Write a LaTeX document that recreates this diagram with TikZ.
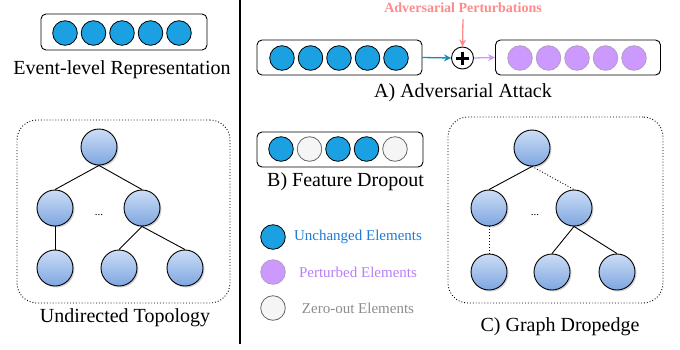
\documentclass[tikz,border=0pt]{standalone}
\usepackage{fontspec}
\setmainfont{Liberation Serif}
\usetikzlibrary{shadows,arrows.meta}
\definecolor{cblue}{HTML}{1BA1E2}
\definecolor{cpurp}{HTML}{CC99FF}
\definecolor{cpurpd}{HTML}{9673A6}
\definecolor{cgray}{HTML}{F5F5F5}
\definecolor{cgrayd}{HTML}{666666}
\definecolor{csalmon}{HTML}{FF8A8A}
\definecolor{cblueTxt}{HTML}{1F7BD1}
\definecolor{cpurpTxt}{HTML}{B77EF8}
\definecolor{cgrayTxt}{HTML}{8C8C8C}
\definecolor{carrowb}{HTML}{1C6EA4}
\definecolor{carrowp}{HTML}{C89BFA}
\definecolor{ntop}{HTML}{CCDDF6}
\definecolor{nbot}{HTML}{7EA6E0}
\tikzset{
  elb/.style={circle,draw=black,fill=cblue,minimum size=24.6pt,inner sep=0pt,line width=0.8pt},
  elp/.style={circle,draw=cpurpd!70,fill=cpurp,minimum size=24.6pt,inner sep=0pt,line width=0.8pt},
  elg/.style={circle,draw=cgrayd,fill=cgray,minimum size=24.6pt,inner sep=0pt,line width=0.8pt},
  vecbox/.style={draw=black,rounded corners=5pt,line width=0.9pt},
  tnode/.style={circle,draw=black,line width=0.9pt,minimum size=36pt,inner sep=0pt,
    top color=ntop,bottom color=nbot,
    drop shadow={shadow xshift=1.5pt,shadow yshift=-1.5pt,fill=black!35}},
  lbl/.style={font=\fontsize{20}{24}\selectfont,inner sep=0pt},
  leg/.style={font=\fontsize{15}{18}\selectfont,inner sep=0pt},
  dotbox/.style={draw=black,dotted,line width=0.9pt,rounded corners=20pt},
  edge/.style={line width=0.9pt},
  dedge/.style={line width=0.9pt,dotted}
}
\begin{document}
\begin{tikzpicture}[x=1pt,y=-1pt]
\useasboundingbox (0,0) rectangle (680,349);
% separator
\coordinate (s1) at (240,0);
\coordinate (s2) at (240,344);
\draw[line width=2pt] (s1) -- (s2);

% Event-level representation
\node[vecbox,minimum width=166pt,minimum height=36pt] (ebox) at (124,32) {};
\foreach \i/\x in {1/65,2/93.5,3/122,4/150.5,5/179}{\node[elb] (e\i) at (\x,33) {};}
\node[lbl] (etxt) at (122,70) {Event-level Representation};

% Undirected topology
\node[dotbox,minimum width=213pt,minimum height=183pt] (ubox) at (123.5,211.5) {};
\node[tnode] (u0) at (99,147) {};
\node[tnode] (u1) at (55,208) {};
\node[tnode] (u2) at (142,208) {};
\node[tnode] (u3) at (55,268) {};
\node[tnode] (u4) at (119,268) {};
\node[tnode] (u5) at (185,268) {};
\node[font=\fontsize{11}{12}\selectfont] (udots) at (99,215) {...};
\draw[edge] (u0.south) -- (u1.north);
\draw[edge] (u0.south) -- (u2.north);
\draw[edge] (u1.south) -- (u3.north);
\draw[edge] (u2.south) -- (u4.north);
\draw[edge] (u2.south) -- (u5.north);
\node[lbl] (utxt) at (125,318) {Undirected Topology};

% A) Adversarial attack
\node[font=\bfseries\fontsize{14}{16}\selectfont,text=csalmon,inner sep=0pt] (advtxt) at (463,8) {Adversarial Perturbations};
\node[vecbox,minimum width=165pt,minimum height=35pt] (abox) at (339.5,57.5) {};
\foreach \i/\x in {1/282,2/310.5,3/339,4/367.5,5/396}{\node[elb] (a\i) at (\x,58) {};}
\node[circle,draw=black,fill=white,line width=0.9pt,minimum size=22pt,inner sep=0pt] (plus) at (462.5,58) {};
\draw[line width=3pt] ([xshift=-6.5pt]plus.center) -- ([xshift=6.5pt]plus.center);
\draw[line width=3pt] ([yshift=-6.5pt]plus.center) -- ([yshift=6.5pt]plus.center);
\node[vecbox,minimum width=165pt,minimum height=35pt] (pbox) at (578,57.5) {};
\foreach \i/\x in {1/520,2/548.5,3/577,4/605.5,5/634}{\node[elp] (p\i) at (\x,58) {};}
\draw[line width=1.3pt,color=carrowb!80!cyan,-{Stealth[length=7pt,width=7pt]}] (abox.east) -- (plus.west);
\draw[line width=1.3pt,color=carrowp,-{Stealth[length=7pt,width=7pt]}] (plus.east) -- (pbox.west);
\draw[line width=1.3pt,color=csalmon,-{Stealth[length=7pt,width=7pt]}] ([yshift=-6pt]advtxt.south) -- (plus.north);
\node[lbl] (atxt) at (463,93) {A) Adversarial Attack};

% B) Feature dropout
\node[vecbox,minimum width=166pt,minimum height=35pt] (bbox) at (340,149.5) {};
\node[elb] (b1) at (281,149) {};
\node[elg] (b2) at (309.5,149) {};
\node[elb] (b3) at (338,149) {};
\node[elb] (b4) at (366.5,149) {};
\node[elg] (b5) at (395,149) {};
\node[lbl] (btxt) at (345.5,182) {B) Feature Dropout};

% legend
\node[elb] (l1) at (273,237) {};
\node[elp] (l2) at (273,272) {};
\node[elg] (l3) at (273,308) {};
\node[leg,text=cblueTxt] (lt1) at (358,237) {Unchanged Elements};
\node[leg,text=cpurpTxt] (lt2) at (358,272) {Perturbed Elements};
\node[leg,text=cgrayTxt] (lt3) at (358,308) {Zero-out Elements};

% C) Graph dropedge
\node[dotbox,minimum width=215pt,minimum height=186pt] (cbox) at (555.5,210) {};
\node[tnode] (c0) at (532,148) {};
\node[tnode] (c1) at (489,208) {};
\node[tnode] (c2) at (574,208) {};
\node[tnode] (c3) at (489,272) {};
\node[tnode] (c4) at (552,272) {};
\node[tnode] (c5) at (617,272) {};
\node[font=\fontsize{11}{12}\selectfont] (cdots) at (535,215) {...};
\draw[edge] (c0.south) -- (c1.north);
\draw[dedge] (c0.south) -- (c2.north);
\draw[dedge] (c1.south) -- (c3.north);
\draw[edge] (c2.south) -- (c4.north);
\draw[edge] (c2.south) -- (c5.north);
\node[lbl] (ctxt) at (560,327) {C) Graph Dropedge};
\end{tikzpicture}
\end{document}
